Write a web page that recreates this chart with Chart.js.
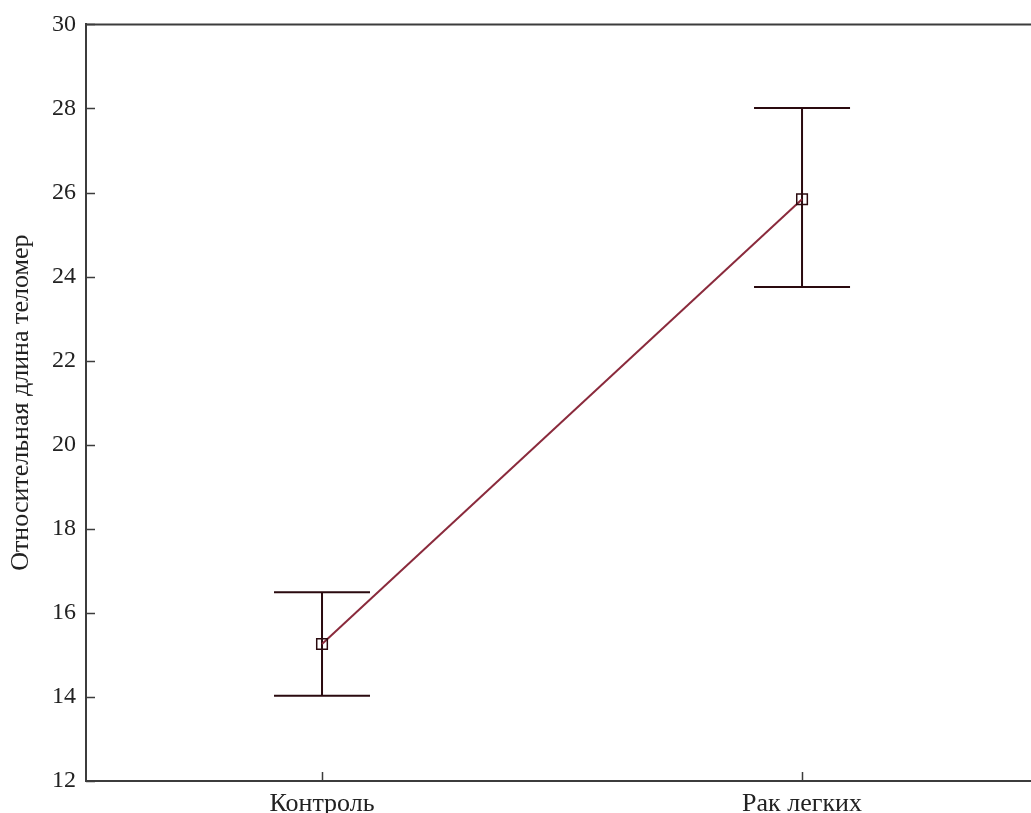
<!DOCTYPE html>
<html>
<head>
<meta charset="utf-8">
<script src="https://cdn.jsdelivr.net/npm/chart.js@4.4.1/dist/chart.umd.min.js"></script>
<style>
  html, body { margin: 0; padding: 0; background: #fff; }
  #wrap { width: 1031px; height: 813px; position: relative; }
</style>
</head>
<body>
<div id="wrap"><canvas id="chart"></canvas></div>
<script>
// Groups and their summary values (mean with lower/upper bounds)
const categories = ['Контроль', 'Рак легких'];
const means = [15.26, 25.84];
const lowerBounds = [14.03, 23.75];
const upperBounds = [16.49, 28.01];
const yTicks = [12, 14, 16, 18, 20, 22, 24, 26, 28, 30];

const FONT = '"Liberation Serif", "DejaVu Serif", serif';
const AXIS_COLOR = '#3c3c3c';
const BAR_COLOR = '#2a0a0f';
const LINE_COLOR = '#8a2a3c';

// Error bars, inward tick marks and the top frame line
const decorations = {
  id: 'decorations',
  beforeDatasetsDraw(chart) {
    const { ctx, chartArea: a, scales: { x, y } } = chart;
    ctx.save();
    ctx.strokeStyle = BAR_COLOR;
    ctx.lineWidth = 2;
    categories.forEach((c, i) => {
      const px = x.getPixelForValue(i);
      const yl = y.getPixelForValue(lowerBounds[i]);
      const yu = y.getPixelForValue(upperBounds[i]);
      const cap = 48;
      ctx.beginPath();
      ctx.moveTo(px, yl); ctx.lineTo(px, yu);
      ctx.moveTo(px - cap, yl); ctx.lineTo(px + cap, yl);
      ctx.moveTo(px - cap, yu); ctx.lineTo(px + cap, yu);
      ctx.stroke();
    });
    ctx.strokeStyle = AXIS_COLOR;
    ctx.lineWidth = 1.5;
    ctx.beginPath();
    yTicks.forEach(v => {
      const py = Math.round(y.getPixelForValue(v)) + 0.5;
      ctx.moveTo(a.left, py); ctx.lineTo(a.left + 9, py);
    });
    categories.forEach((c, i) => {
      const px = Math.round(x.getPixelForValue(i)) + 0.5;
      ctx.moveTo(px, a.bottom); ctx.lineTo(px, a.bottom - 9);
    });
    ctx.stroke();
    ctx.lineWidth = 2;
    ctx.beginPath();
    ctx.moveTo(a.left, a.top); ctx.lineTo(a.right, a.top);
    ctx.stroke();
    ctx.restore();
  }
};

new Chart(document.getElementById('chart'), {
  type: 'line',
  data: {
    datasets: [{
      data: means.map((m, i) => ({ x: i, y: m })),
      borderColor: LINE_COLOR,
      borderWidth: 2,
      pointStyle: 'rect',
      pointRadius: 7.5,
      pointBorderWidth: 1.5,
      pointBorderColor: BAR_COLOR,
      pointBackgroundColor: 'rgba(255,255,255,0)',
      tension: 0
    }]
  },
  options: {
    responsive: true,
    maintainAspectRatio: false,
    animation: false,
    layout: { autoPadding: false, padding: { top: 24, right: 0, left: 0, bottom: 0 } },
    plugins: { legend: { display: false }, tooltip: { enabled: false } },
    scales: {
      x: {
        type: 'linear',
        min: -0.4917,
        max: 1.477,
        afterBuildTicks(s) { s.ticks = categories.map((c, i) => ({ value: i })); },
        afterFit(s) { s.height = 32; },
        grid: { display: false, drawTicks: false },
        border: { display: true, color: AXIS_COLOR, width: 2 },
        ticks: {
          padding: 8,
          color: '#222',
          font: { family: FONT, size: 26 },
          maxRotation: 0,
          autoSkip: false,
          callback: v => categories[v]
        }
      },
      y: {
        min: 12,
        max: 30,
        afterBuildTicks(s) { s.ticks = yTicks.map(v => ({ value: v })); },
        afterFit(s) { s.width = 86; },
        grid: { display: false, drawTicks: false },
        border: { display: true, color: AXIS_COLOR, width: 2 },
        ticks: {
          padding: 10,
          color: '#222',
          font: { family: FONT, size: 24 }
        },
        title: {
          display: true,
          text: 'Относительная длина теломер',
          color: '#222',
          font: { family: FONT, size: 26 },
          padding: { top: 6, bottom: 0 }
        }
      }
    }
  },
  plugins: [decorations]
});
</script>
</body>
</html>
